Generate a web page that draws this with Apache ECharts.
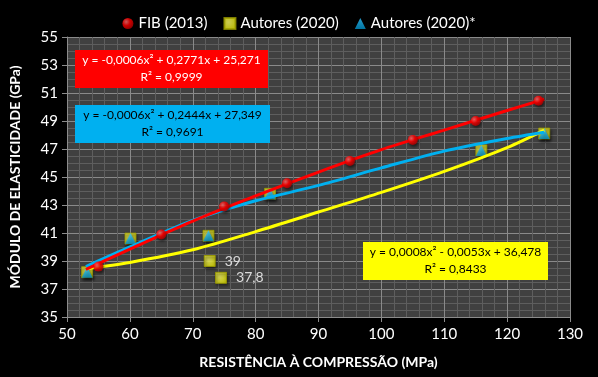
<!DOCTYPE html>
<html>
<head>
<meta charset="utf-8">
<script src="https://cdn.jsdelivr.net/npm/echarts@6/dist/echarts.min.js"></script>
<style>
    html, body { margin: 0; padding: 0; background: #000; }
</style>
</head>
<body>
<div id="main" style="width: 598px; height: 377px;"></div>

<script type="text/javascript">
    // dados
    var fibX = [55, 65, 75, 85, 95, 105, 115, 125];
    var fibY = [38.6, 40.9, 42.9, 44.55, 46.15, 47.65, 49.0, 50.45];

    var autX = [53.2, 60.1, 72.5, 72.7, 74.5, 82.3, 115.9, 125.9];
    var autY = [38.2, 40.6, 40.8, 39.0, 37.8, 43.8, 46.9, 48.1];
    var autLabels = ['', '', '', '39', '37,8', '', '', ''];

    var autStarX = [53.2, 60.1, 72.5, 82.3, 115.9, 125.9];
    var autStarY = [38.2, 40.6, 40.8, 43.8, 46.9, 48.1];

    // linhas de tendência
    var trendX = [53, 60, 70, 80, 90, 100, 110, 120, 125.9];
    var trendFib = [38.4, 39.85, 41.85, 43.65, 45.35, 46.95, 48.35, 49.75, 50.55];
    var trendAut = [38.45, 38.9, 39.8, 41.1, 42.5, 43.9, 45.4, 47.1, 48.35];
    var trendAutStar = [38.6, 40.0, 41.9, 43.3, 44.4, 45.65, 46.85, 47.75, 48.2];

    var xTicks = [50, 130, 10];
    var yTicks = [35, 55, 2];

    var legendNames = ['FIB (2013)', 'Autores (2020)', 'Autores (2020)*'];
    var eqFib = ['y = -0,0006x² + 0,2771x + 25,271', 'R² = 0,9999'];
    var eqAutStar = ['y = -0,0006x² + 0,2444x + 27,349', 'R² = 0,9691'];
    var eqAut = ['y = 0,0008x² - 0,0053x + 36,478', 'R² = 0,8433'];

    function pares(xs, ys) {
        return xs.map(function (x, i) { return [x, ys[i]]; });
    }

    var fonte = 'Lato, "Open Sans", sans-serif';

    var sombra = {
        shadowBlur: 3,
        shadowColor: 'rgba(0,0,0,0.7)',
        shadowOffsetX: 1,
        shadowOffsetY: 2
    };

    var autData = autX.map(function (x, i) {
        var item = { value: [x, autY[i]] };
        if (autLabels[i]) {
            item.label = {
                show: true,
                position: 'right',
                distance: 9,
                formatter: autLabels[i],
                color: '#fff',
                fontSize: 14,
                fontFamily: fonte
            };
        }
        return item;
    });

    // caixa com a equação da linha de tendência
    function caixa(x, y, w, h, bg, cor, linhas) {
        return [
            {
                type: 'rect', z: 100, x: x, y: y,
                shape: { x: 0, y: 0, width: w, height: h },
                style: { fill: bg }
            },
            {
                type: 'text', z: 101, x: x + w / 2, y: y + h / 2,
                style: {
                    text: linhas.join('\n'),
                    fill: cor,
                    font: '12px ' + fonte,
                    align: 'center',
                    verticalAlign: 'middle',
                    lineHeight: 17
                }
            }
        ];
    }

    var myChart = echarts.init(document.getElementById('main'));

    var option = {
        backgroundColor: '#000',
        animation: false,
        textStyle: { fontFamily: fonte },
        legend: {
            top: 11,
            left: 'center',
            itemWidth: 11,
            itemHeight: 11,
            itemGap: 16,
            textStyle: { color: '#fff', fontSize: 15, fontFamily: fonte },
            data: [
                { name: legendNames[0], icon: 'circle' },
                { name: legendNames[1], icon: 'rect' },
                { name: legendNames[2], icon: 'triangle' }
            ]
        },
        grid: {
            left: 67,
            right: 28,
            top: 37,
            bottom: 60,
            show: true,
            backgroundColor: '#404040',
            borderWidth: 0
        },
        xAxis: {
            type: 'value',
            min: xTicks[0],
            max: xTicks[1],
            interval: xTicks[2],
            name: 'RESISTÊNCIA À COMPRESSÃO (MPa)',
            nameLocation: 'middle',
            nameGap: 38,
            nameTextStyle: { color: '#fff', fontSize: 14, fontWeight: 'bold', fontFamily: fonte },
            axisLine: { show: true, onZero: false, lineStyle: { color: '#8c8c8c', width: 1 } },
            axisTick: { show: true, length: 5, lineStyle: { color: '#8c8c8c' } },
            axisLabel: { color: '#fff', fontSize: 15, margin: 10, fontFamily: fonte },
            splitLine: { show: true, lineStyle: { color: '#8a8a8a', width: 1 } },
            minorTick: { show: false, splitNumber: 5 },
            minorSplitLine: { show: true, lineStyle: { color: '#5e5e5e', width: 1 } }
        },
        yAxis: {
            type: 'value',
            min: yTicks[0],
            max: yTicks[1],
            interval: yTicks[2],
            name: 'MÓDULO DE ELASTICIDADE (GPa)',
            nameLocation: 'middle',
            nameGap: 45,
            nameTextStyle: { color: '#fff', fontSize: 14, fontWeight: 'bold', fontFamily: fonte },
            axisLine: { show: true, onZero: false, lineStyle: { color: '#8c8c8c', width: 1 } },
            axisTick: { show: true, length: 5, lineStyle: { color: '#8c8c8c' } },
            axisLabel: { color: '#fff', fontSize: 15, margin: 9, fontFamily: fonte },
            splitLine: { show: true, lineStyle: { color: '#8a8a8a', width: 1 } },
            minorTick: { show: false, splitNumber: 4 },
            minorSplitLine: { show: true, lineStyle: { color: '#5e5e5e', width: 1 } }
        },
        series: [
            {
                name: legendNames[1],
                type: 'scatter',
                z: 2,
                symbol: 'rect',
                symbolSize: 11,
                itemStyle: Object.assign({
                    color: new echarts.graphic.RadialGradient(0.4, 0.4, 0.7, [
                        { offset: 0, color: '#ffff66' },
                        { offset: 1, color: '#e6e600' }
                    ]),
                    borderColor: '#9c9c00',
                    borderWidth: 1
                }, sombra),
                data: autData
            },
            {
                name: legendNames[2],
                type: 'scatter',
                z: 3,
                symbol: 'triangle',
                symbolSize: 11,
                itemStyle: Object.assign({
                    color: new echarts.graphic.LinearGradient(0, 0, 0, 1, [
                        { offset: 0, color: '#33c4ff' },
                        { offset: 1, color: '#0090c8' }
                    ])
                }, sombra),
                data: pares(autStarX, autStarY)
            },
            {
                name: 'trend-aut',
                type: 'line',
                z: 4,
                smooth: 0.3,
                showSymbol: false,
                symbol: 'none',
                lineStyle: { color: '#ffff00', width: 3 },
                data: pares(trendX, trendAut)
            },
            {
                name: 'trend-autstar',
                type: 'line',
                z: 5,
                smooth: 0.3,
                showSymbol: false,
                symbol: 'none',
                lineStyle: { color: '#00b0f0', width: 3 },
                data: pares(trendX, trendAutStar)
            },
            {
                name: 'trend-fib',
                type: 'line',
                z: 6,
                smooth: 0.3,
                showSymbol: false,
                symbol: 'none',
                lineStyle: { color: '#ff0000', width: 3 },
                data: pares(trendX, trendFib)
            },
            {
                name: legendNames[0],
                type: 'scatter',
                z: 7,
                symbol: 'circle',
                symbolSize: 10,
                itemStyle: Object.assign({
                    color: new echarts.graphic.RadialGradient(0.35, 0.35, 0.7, [
                        { offset: 0, color: '#ff7070' },
                        { offset: 0.5, color: '#ff0000' },
                        { offset: 1, color: '#b00000' }
                    ])
                }, sombra),
                data: pares(fibX, fibY)
            }
        ],
        graphic: [].concat(
            caixa(75, 50, 193, 38, '#ff0000', '#fff', eqFib),
            caixa(75, 105, 195, 38, '#00b0f0', '#000', eqAutStar),
            caixa(363, 242, 185, 38, '#ffff00', '#000', eqAut)
        )
    };

    myChart.setOption(option);
</script>
</body>
</html>
